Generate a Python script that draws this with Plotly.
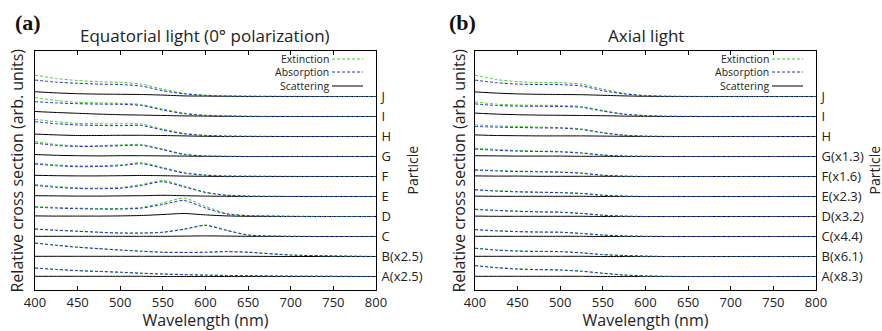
import plotly.graph_objects as go

# ---------------- data ----------------
wavelength = [400, 425, 450, 475, 500, 525, 550, 575, 600, 625, 650, 700, 750, 800]
particles = ["A", "B", "C", "D", "E", "F", "G", "H", "I", "J"]
labels_eq = ["A(x2.5)", "B(x2.5)", "C", "D", "E", "F", "G", "H", "I", "J"]
labels_ax = ["A(x8.3)", "B(x6.1)", "C(x4.4)", "D(x3.2)", "E(x2.3)", "F(x1.6)", "G(x1.3)", "H", "I", "J"]
x_ticks = [400, 450, 500, 550, 600, 650, 700, 750, 800]

# Equatorial light (0 deg polarization)
ext_eq = {
    "J": [1.07, 0.90, 0.80, 0.74, 0.71, 0.62, 0.36, 0.16, 0.07, 0.03, 0.02, 0.01, 0, 0],
    "I": [0.94, 0.80, 0.71, 0.68, 0.66, 0.60, 0.37, 0.17, 0.07, 0.03, 0.01, 0, 0, 0],
    "H": [0.86, 0.74, 0.66, 0.63, 0.63, 0.62, 0.37, 0.16, 0.06, 0.02, 0.01, 0, 0, 0],
    "G": [0.75, 0.60, 0.53, 0.54, 0.58, 0.60, 0.37, 0.12, 0.03, 0.01, 0, 0, 0, 0],
    "F": [0.67, 0.58, 0.53, 0.54, 0.58, 0.69, 0.45, 0.20, 0.08, 0.03, 0.02, 0.01, 0, 0],
    "E": [0.60, 0.50, 0.43, 0.42, 0.45, 0.60, 0.80, 0.52, 0.22, 0.07, 0.02, 0.01, 0, 0],
    "D": [0.50, 0.45, 0.42, 0.40, 0.40, 0.46, 0.68, 0.92, 0.50, 0.15, 0.05, 0.01, 0, 0],
    "C": [0.38, 0.32, 0.27, 0.22, 0.18, 0.18, 0.22, 0.38, 0.58, 0.32, 0.08, 0.01, 0, 0],
    "B": [0.68, 0.57, 0.47, 0.40, 0.33, 0.27, 0.22, 0.21, 0.22, 0.25, 0.22, 0.08, 0.03, 0],
    "A": [0.43, 0.36, 0.30, 0.26, 0.22, 0.17, 0.13, 0.10, 0.07, 0.05, 0.04, 0.02, 0.01, 0],
}
abs_eq = {
    "J": [0.82, 0.72, 0.66, 0.62, 0.60, 0.52, 0.29, 0.13, 0.05, 0.02, 0.01, 0, 0, 0],
    "I": [0.74, 0.68, 0.64, 0.62, 0.61, 0.55, 0.32, 0.14, 0.05, 0.02, 0.01, 0, 0, 0],
    "H": [0.74, 0.64, 0.58, 0.55, 0.54, 0.55, 0.32, 0.13, 0.05, 0.02, 0.01, 0, 0, 0],
    "G": [0.67, 0.55, 0.50, 0.51, 0.54, 0.56, 0.34, 0.10, 0.02, 0.01, 0, 0, 0, 0],
    "F": [0.62, 0.54, 0.49, 0.50, 0.54, 0.64, 0.41, 0.17, 0.06, 0.02, 0.01, 0, 0, 0],
    "E": [0.55, 0.46, 0.40, 0.39, 0.41, 0.55, 0.74, 0.48, 0.20, 0.06, 0.02, 0, 0, 0],
    "D": [0.47, 0.42, 0.39, 0.37, 0.37, 0.42, 0.60, 0.80, 0.42, 0.12, 0.04, 0.01, 0, 0],
    "C": [0.37, 0.31, 0.26, 0.21, 0.17, 0.17, 0.21, 0.36, 0.55, 0.30, 0.07, 0.01, 0, 0],
    "B": [0.67, 0.56, 0.46, 0.39, 0.32, 0.26, 0.21, 0.20, 0.21, 0.24, 0.21, 0.07, 0.03, 0],
    "A": [0.42, 0.35, 0.29, 0.25, 0.21, 0.16, 0.12, 0.09, 0.07, 0.05, 0.04, 0.02, 0.01, 0],
}
sca_eq = {
    "J": [0.24, 0.18, 0.14, 0.12, 0.11, 0.10, 0.07, 0.03, 0.02, 0.01, 0, 0, 0, 0],
    "I": [0.25, 0.20, 0.16, 0.12, 0.09, 0.07, 0.05, 0.03, 0.02, 0.01, 0, 0, 0, 0],
    "H": [0.12, 0.08, 0.05, 0.05, 0.06, 0.06, 0.05, 0.03, 0.01, 0, 0, 0, 0, 0],
    "G": [0.10, 0.06, 0.04, 0.03, 0.04, 0.04, 0.03, 0.02, 0.01, 0, 0, 0, 0, 0],
    "F": [0.06, 0.04, 0.03, 0.03, 0.04, 0.05, 0.04, 0.02, 0.01, 0, 0, 0, 0, 0],
    "E": [0.04, 0.03, 0.02, 0.02, 0.03, 0.04, 0.06, 0.04, 0.02, 0.01, 0, 0, 0, 0],
    "D": [0.03, 0.02, 0.02, 0.02, 0.03, 0.05, 0.10, 0.15, 0.08, 0.03, 0.01, 0, 0, 0],
    "C": [0.01, 0.01, 0.01, 0.01, 0.01, 0.01, 0.01, 0.02, 0.03, 0.02, 0.01, 0, 0, 0],
    "B": [0.01, 0.01, 0.01, 0.01, 0.01, 0.01, 0.01, 0.01, 0.01, 0.01, 0.01, 0, 0, 0],
    "A": [0.01, 0.01, 0.01, 0.01, 0.01, 0.01, 0, 0, 0, 0, 0, 0, 0, 0],
}

# Axial light
ext_ax = {
    "J": [1.07, 0.85, 0.74, 0.70, 0.69, 0.62, 0.36, 0.16, 0.05, 0.02, 0.01, 0, 0, 0],
    "I": [0.73, 0.62, 0.57, 0.56, 0.55, 0.50, 0.30, 0.13, 0.05, 0.02, 0.01, 0, 0, 0],
    "H": [0.58, 0.53, 0.50, 0.47, 0.45, 0.38, 0.20, 0.07, 0.02, 0.01, 0, 0, 0, 0],
    "G": [0.42, 0.35, 0.30, 0.27, 0.25, 0.19, 0.08, 0.03, 0.01, 0, 0, 0, 0, 0],
    "F": [0.35, 0.30, 0.27, 0.25, 0.23, 0.18, 0.07, 0.02, 0, 0, 0, 0, 0, 0],
    "E": [0.35, 0.29, 0.25, 0.22, 0.20, 0.16, 0.07, 0.02, 0, 0, 0, 0, 0, 0],
    "D": [0.37, 0.31, 0.27, 0.24, 0.22, 0.16, 0.07, 0.02, 0, 0, 0, 0, 0, 0],
    "C": [0.35, 0.29, 0.25, 0.23, 0.22, 0.16, 0.08, 0.03, 0.01, 0, 0, 0, 0, 0],
    "B": [0.42, 0.33, 0.28, 0.26, 0.25, 0.19, 0.10, 0.05, 0.02, 0, 0, 0, 0, 0],
    "A": [0.55, 0.45, 0.38, 0.35, 0.33, 0.27, 0.17, 0.08, 0.03, 0.01, 0, 0, 0, 0],
}
abs_ax = {
    "J": [0.82, 0.69, 0.62, 0.60, 0.59, 0.53, 0.29, 0.13, 0.04, 0.01, 0, 0, 0, 0],
    "I": [0.63, 0.55, 0.52, 0.51, 0.50, 0.46, 0.27, 0.11, 0.04, 0.01, 0, 0, 0, 0],
    "H": [0.50, 0.47, 0.45, 0.43, 0.42, 0.35, 0.18, 0.06, 0.02, 0, 0, 0, 0, 0],
    "G": [0.37, 0.31, 0.27, 0.25, 0.23, 0.17, 0.07, 0.02, 0.01, 0, 0, 0, 0, 0],
    "F": [0.32, 0.28, 0.25, 0.23, 0.21, 0.16, 0.06, 0.02, 0, 0, 0, 0, 0, 0],
    "E": [0.33, 0.27, 0.23, 0.21, 0.19, 0.15, 0.06, 0.02, 0, 0, 0, 0, 0, 0],
    "D": [0.35, 0.30, 0.26, 0.23, 0.21, 0.15, 0.06, 0.02, 0, 0, 0, 0, 0, 0],
    "C": [0.34, 0.28, 0.24, 0.22, 0.21, 0.15, 0.07, 0.03, 0.01, 0, 0, 0, 0, 0],
    "B": [0.41, 0.32, 0.27, 0.25, 0.24, 0.18, 0.09, 0.05, 0.02, 0, 0, 0, 0, 0],
    "A": [0.54, 0.44, 0.37, 0.34, 0.32, 0.26, 0.16, 0.07, 0.03, 0.01, 0, 0, 0, 0],
}
sca_ax = {
    "J": [0.23, 0.17, 0.13, 0.11, 0.10, 0.09, 0.06, 0.03, 0.01, 0, 0, 0, 0, 0],
    "I": [0.17, 0.12, 0.09, 0.07, 0.06, 0.05, 0.04, 0.02, 0.01, 0, 0, 0, 0, 0],
    "H": [0.08, 0.05, 0.04, 0.03, 0.03, 0.03, 0.02, 0.01, 0, 0, 0, 0, 0, 0],
    "G": [0.04, 0.03, 0.02, 0.02, 0.02, 0.01, 0.01, 0, 0, 0, 0, 0, 0, 0],
    "F": [0.03, 0.02, 0.02, 0.01, 0.01, 0.01, 0.01, 0, 0, 0, 0, 0, 0, 0],
    "E": [0.02, 0.01, 0.01, 0.01, 0.01, 0.01, 0, 0, 0, 0, 0, 0, 0, 0],
    "D": [0.02, 0.01, 0.01, 0.01, 0.01, 0.01, 0, 0, 0, 0, 0, 0, 0, 0],
    "C": [0.01, 0.01, 0.01, 0.01, 0.01, 0.01, 0, 0, 0, 0, 0, 0, 0, 0],
    "B": [0.01, 0.01, 0.01, 0.01, 0.01, 0.01, 0, 0, 0, 0, 0, 0, 0, 0],
    "A": [0.01, 0.01, 0.01, 0.01, 0.01, 0.01, 0, 0, 0, 0, 0, 0, 0, 0],
}

# ---------------- styles ----------------
W, H = 882, 331
FONT = "Open Sans"
GREEN = "#44cc33"
BLUE = "#2233bb"
BLACK = "#000000"
DASH = "3px,2px"

dom_y = [1 - 290 / H, 1 - 51 / H]
dom_xa = [35 / W, 376 / W]
dom_xb = [475 / W, 816 / W]
y_range = [-0.675, 11.275]

fig = go.Figure()


def add_panel(ext, absn, sca, xa, ya):
    for i, p in enumerate(particles):
        off = i
        fig.add_trace(go.Scatter(x=wavelength, y=[v + off for v in sca[p]], mode="lines",
                                 line=dict(color=BLACK, width=1, shape="spline", smoothing=0.7),
                                 xaxis=xa, yaxis=ya, showlegend=False, hoverinfo="skip"))
        fig.add_trace(go.Scatter(x=wavelength, y=[v + off for v in ext[p]], mode="lines",
                                 line=dict(color=GREEN, width=1, dash=DASH, shape="spline", smoothing=0.7),
                                 xaxis=xa, yaxis=ya, showlegend=False, hoverinfo="skip"))
        fig.add_trace(go.Scatter(x=wavelength, y=[v + off for v in absn[p]], mode="lines",
                                 line=dict(color=BLUE, width=1, dash=DASH, shape="spline", smoothing=0.7),
                                 xaxis=xa, yaxis=ya, showlegend=False, hoverinfo="skip"))


add_panel(ext_eq, abs_eq, sca_eq, "x", "y")
add_panel(ext_ax, abs_ax, sca_ax, "x2", "y2")

xcommon = dict(range=[400, 800], tickvals=x_ticks, ticks="inside", ticklen=4, tickcolor=BLACK,
               showline=True, linecolor=BLACK, linewidth=1, mirror="ticks", showgrid=False,
               zeroline=False, tickfont=dict(family=FONT, size=13, color="#222"),
               title=dict(text="Wavelength (nm)", font=dict(family=FONT, size=16, color="#222"), standoff=2))
ycommon = dict(range=y_range, domain=dom_y, side="right", tickvals=list(range(10)), ticks="",
               showline=True, linecolor=BLACK, linewidth=1, mirror=True, showgrid=False,
               zeroline=False, tickfont=dict(family=FONT, size=13, color="#222"), ticklabelstandoff=2)

fig.update_layout(
    width=W, height=H, margin=dict(l=0, r=0, t=0, b=0, autoexpand=False),
    paper_bgcolor="white", plot_bgcolor="white",
    font=dict(family=FONT, color="#222"),
    xaxis=dict(domain=dom_xa, anchor="y", **xcommon),
    xaxis2=dict(domain=dom_xb, anchor="y2", **xcommon),
    yaxis=dict(anchor="x", ticktext=labels_eq, **ycommon),
    yaxis2=dict(anchor="x2", ticktext=labels_ax, **ycommon),
    showlegend=False,
)

ann = []
# panel letters and titles
for letter, xl, title, dom in [("(a)", 13, "Equatorial light (0° polarization)", dom_xa),
                                ("(b)", 447, "Axial light", dom_xb)]:
    ann.append(dict(text="<b>%s</b>" % letter, x=xl / W, y=1 - 22 / H, xref="paper", yref="paper",
                    xanchor="left", yanchor="middle", showarrow=False,
                    font=dict(family="Liberation Serif", size=22, color="#111")))
    ann.append(dict(text=title, x=(dom[0] + dom[1]) / 2, y=1 - 35 / H, xref="paper", yref="paper",
                    xanchor="center", yanchor="middle", showarrow=False,
                    font=dict(family=FONT, size=17, color="#222")))
# y titles
for xl in [16, 458]:
    ann.append(dict(text="Relative cross section (arb. units)", x=xl / W, y=(dom_y[0] + dom_y[1]) / 2,
                    xref="paper", yref="paper", textangle=-90, xanchor="center", yanchor="middle",
                    showarrow=False, font=dict(family=FONT, size=16, color="#222")))
for xl in [412, 874]:
    ann.append(dict(text="Particle", x=xl / W, y=(dom_y[0] + dom_y[1]) / 2,
                    xref="paper", yref="paper", textangle=-90, xanchor="center", yanchor="middle",
                    showarrow=False, font=dict(family=FONT, size=14, color="#222")))

# legend boxes (text then sample line)
legend_items = [("Extinction", GREEN, DASH, 59), ("Absorption", BLUE, DASH, 72), ("Scattering", BLACK, "solid", 86)]
shapes = []
for x0 in [35, 475]:
    for name, col, dash, yy in legend_items:
        ann.append(dict(text=name, x=(x0 + 295) / W, y=1 - yy / H, xref="paper", yref="paper",
                        xanchor="right", yanchor="middle", showarrow=False, borderpad=0,
                        font=dict(family=FONT, size=10.5, color="#222")))
        shapes.append(dict(type="line", xref="paper", yref="paper", x0=(x0 + 297) / W, x1=(x0 + 328) / W,
                           y0=1 - yy / H, y1=1 - yy / H, line=dict(color=col, width=1, dash=dash)))

fig.update_layout(annotations=ann, shapes=shapes)
fig.write_html("out.html", config={"displayModeBar": False},
               post_script="document.body.style.margin='0px';document.body.style.overflow='hidden';")
